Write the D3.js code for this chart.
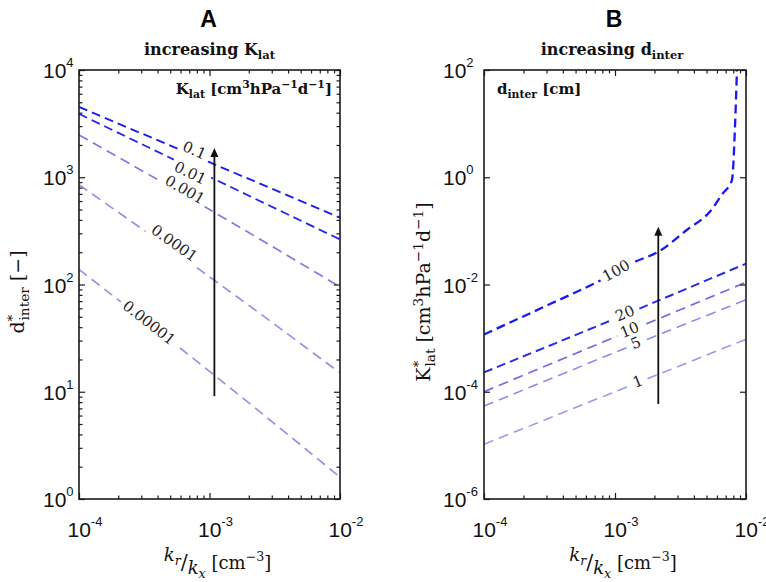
<!DOCTYPE html>
<html>
<head>
<meta charset="utf-8">
<script src="https://cdn.jsdelivr.net/npm/d3@7"></script>
<style>
  body { margin: 0; background: #fff; }
  svg { display: block; }
</style>
</head>
<body>
<div id="chart"></div>
<script>
// k_r / k_x [cm^-3] sample points of the straight contours
const kRatio = [1e-4, 1e-3, 1e-2];

// Panel A: d*_inter [-] for each K_lat level
const kLatLevels = ['0.1', '0.01', '0.001', '0.0001', '0.00001'];
const dInterA = [
  [4530, 1380, 420],
  [3900, 1010, 263],
  [2480, 500, 95],
  [850, 118, 15],
  [138, 15.5, 1.6],
];

// Panel B: K*_lat for each d_inter level
const dInterLevels = ['100', '20', '10', '5', '1'];
const kRatio100 = [1e-4, 3.16e-4, 7.94e-4, 1.38e-3, 2.14e-3, 3.55e-3, 5.31e-3, 6.61e-3, 7.82e-3, 8.24e-3, 8.53e-3];
const kLat100 = [1.17e-3, 4.27e-3, 1.23e-2, 2.57e-2, 4.07e-2, 0.105, 0.229, 0.49, 0.891, 8.71, 100];
const kLatB = [
  [2.3e-4, 2.3e-3, 2.45e-2],
  [1.0e-4, 1.05e-3, 1.1e-2],
  [5.4e-5, 5.4e-4, 5.2e-3],
  [1.05e-5, 1.0e-4, 9.5e-4],
];

const xTicks = [1e-4, 1e-3, 1e-2];
const xTickExp = ['-4', '-3', '-2'];
const yTicksA = [1, 10, 100, 1000, 10000];
const yTickExpA = ['0', '1', '2', '3', '4'];
const yTicksB = [1e-6, 1e-4, 1e-2, 1, 100];
const yTickExpB = ['-6', '-4', '-2', '0', '2'];

// where the contour labels sit (k_r/k_x value)
const labelXA = [7.4e-4, 7.4e-4, 6.2e-4, 5.0e-4, 3.4e-4];
const labelXB = [1.03e-3, 1.2e-3, 1.3e-3, 1.45e-3, 1.5e-3];

const W = 766;
const H = 582;
const serif = "'DejaVu Serif', serif";
const sans = "'Liberation Sans', Arial, sans-serif";

const svg = d3.select('#chart').append('svg').attr('width', W).attr('height', H);
svg.append('rect').attr('width', W).attr('height', H).attr('fill', '#fff');
const defs = svg.append('defs');

// write text with sub/superscript parts: {t, off (px from baseline), fs, st}
const rich = (sel, parts, size) => {
  let cur = 0;
  parts.forEach((p) => {
    const off = p.off || 0;
    const ts = sel.append('tspan').text(p.t).attr('dy', off - cur);
    ts.style('font-size', `${(p.fs || 1) * size}px`);
    if (p.dx) ts.attr('dx', p.dx);
    if (p.st) ts.style('font-style', p.st);
    cur = off;
  });
};

const logInterp = (xs, ys) => {
  const s = d3.scaleLinear().domain(xs.map(Math.log10)).range(ys.map(Math.log10));
  return (v) => 10 ** s(Math.log10(v));
};

const makePanel = (cfg) => {
  const x = d3.scaleLog().domain([1e-4, 1e-2]).range([cfg.left, cfg.right]);
  const y = d3.scaleLog().domain(cfg.yDomain).range([499, 70]);
  const g = svg.append('g');

  const clipId = `clip${cfg.id}`;
  defs.append('clipPath').attr('id', clipId)
    .append('rect')
    .attr('x', cfg.left).attr('y', 70)
    .attr('width', cfg.right - cfg.left).attr('height', 429);

  const line = d3.line().x((d) => x(d[0])).y((d) => y(d[1])).curve(d3.curveMonotoneX);

  // labels first so we can measure them for the line gaps
  const labelG = svg.append('g');
  cfg.series.forEach((s, i) => {
    const f = logInterp(s.xs, s.ys);
    const lx = cfg.labelX[i];
    const a = x(lx * 1.05) - x(lx / 1.05);
    const b = y(f(lx * 1.05)) - y(f(lx / 1.05));
    const ang = (Math.atan2(b, a) * 180) / Math.PI;
    const rad = (ang * Math.PI) / 180;
    // nudge the label a little off the line (perpendicular)
    const lift = cfg.labelLift[i];
    const px = x(lx) + lift * Math.sin(rad);
    const py = y(f(lx)) - lift * Math.cos(rad);
    const t = labelG.append('text')
      .attr('transform', `translate(${px},${py}) rotate(${ang})`)
      .attr('text-anchor', 'middle')
      .attr('dominant-baseline', 'central')
      .style('font-family', serif)
      .style('font-size', '15px')
      .attr('fill', '#26221e')
      .text(s.name);
    const len = t.node().getComputedTextLength();
    const m = defs.append('mask').attr('id', `m${cfg.id}${i}`)
      .attr('maskUnits', 'userSpaceOnUse')
      .attr('x', 0).attr('y', 0).attr('width', W).attr('height', H);
    m.append('rect').attr('width', W).attr('height', H).attr('fill', '#fff');
    m.append('rect')
      .attr('transform', `translate(${px},${py}) rotate(${ang})`)
      .attr('x', -len / 2 - 4).attr('y', -11)
      .attr('width', len + 8).attr('height', 22)
      .attr('fill', '#000');
  });

  const lines = g.append('g').attr('clip-path', `url(#${clipId})`);
  cfg.series.forEach((s, i) => {
    lines.append('g').attr('mask', `url(#m${cfg.id}${i})`)
      .append('path')
      .attr('d', line(s.xs.map((v, j) => [v, s.ys[j]])))
      .attr('fill', 'none')
      .attr('stroke', cfg.styles[i].c)
      .attr('stroke-width', cfg.styles[i].w)
      .attr('stroke-dasharray', cfg.styles[i].d);
  });
  labelG.raise();

  // box + inward ticks
  const axG = svg.append('g').attr('stroke', '#1a1a1a');
  const addAxis = (axis, tr) => {
    const a = axG.append('g').attr('transform', tr).call(axis);
    a.select('.domain').remove();
    a.selectAll('line').attr('stroke', '#1a1a1a').attr('stroke-width', 1.2);
  };
  const xMinor = [];
  [1e-4, 1e-3].forEach((d) => d3.range(2, 10).forEach((k) => xMinor.push(k * d)));
  addAxis(d3.axisBottom(x).tickValues(xTicks).tickSize(-6).tickFormat(''), 'translate(0,499)');
  addAxis(d3.axisBottom(x).tickValues(xMinor).tickSize(-3.5).tickFormat(''), 'translate(0,499)');
  addAxis(d3.axisTop(x).tickValues(xTicks).tickSize(-6).tickFormat(''), 'translate(0,70)');
  addAxis(d3.axisTop(x).tickValues(xMinor).tickSize(-3.5).tickFormat(''), 'translate(0,70)');
  addAxis(d3.axisLeft(y).tickValues(cfg.yTicks).tickSize(-6).tickFormat(''), `translate(${cfg.left},0)`);
  addAxis(d3.axisRight(y).tickValues(cfg.yTicks).tickSize(-6).tickFormat(''), `translate(${cfg.right},0)`);
  if (cfg.yMinor) {
    addAxis(d3.axisLeft(y).tickValues(cfg.yMinor).tickSize(-3.5).tickFormat(''), `translate(${cfg.left},0)`);
    addAxis(d3.axisRight(y).tickValues(cfg.yMinor).tickSize(-3.5).tickFormat(''), `translate(${cfg.right},0)`);
  }
  svg.append('rect')
    .attr('x', cfg.left).attr('y', 70)
    .attr('width', cfg.right - cfg.left).attr('height', 429)
    .attr('fill', 'none').attr('stroke', '#1a1a1a').attr('stroke-width', 1.6);

  // tick labels
  xTicks.forEach((v, i) => {
    const t = svg.append('text')
      .attr('x', x(v) - 11.5).attr('y', 537)
      .style('font-family', sans).style('font-size', '21px').attr('fill', '#111');
    rich(t, [{ t: '10' }, { t: xTickExp[i], off: -11, fs: 0.62 }], 21);
  });
  cfg.yTicks.forEach((v, i) => {
    const t = svg.append('text')
      .attr('x', cfg.left - cfg.tickGap).attr('y', y(v) + 8)
      .style('font-family', sans).style('font-size', '21px').attr('fill', '#111');
    rich(t, [{ t: '10' }, { t: cfg.yTickExp[i], off: -11, fs: 0.62 }], 21);
  });

  // arrow
  const ax = x(cfg.arrow[0]);
  const ay0 = y(cfg.arrow[1]);
  const ay1 = y(cfg.arrow[2]);
  svg.append('line')
    .attr('x1', ax).attr('x2', ax).attr('y1', ay0).attr('y2', ay1 + 6)
    .attr('stroke', '#111').attr('stroke-width', 1.8);
  svg.append('path')
    .attr('d', `M${ax},${ay1} L${ax - 4},${ay1 + 9} L${ax + 4},${ay1 + 9} Z`)
    .attr('fill', '#111');

  // titles
  const cx = (cfg.left + cfg.right) / 2;
  svg.append('text').attr('x', cx - 1).attr('y', 27)
    .attr('text-anchor', 'middle')
    .style('font-family', sans).style('font-weight', 'bold').style('font-size', '23px')
    .text(cfg.id);
  const st = svg.append('text').attr('x', cx + cfg.titleShift).attr('y', 55)
    .attr('text-anchor', 'middle')
    .style('font-family', serif).style('font-weight', 'bold').style('font-size', '16px')
    .attr('fill', '#111');
  rich(st, cfg.title, 16);

  const inner = svg.append('text').attr('x', cfg.innerX).attr('y', 94)
    .attr('text-anchor', cfg.innerAnchor)
    .style('font-family', serif).style('font-weight', 'bold').style('font-size', '15px')
    .attr('fill', '#111');
  rich(inner, cfg.inner, 15);

  // axis labels
  const xl = svg.append('text').attr('x', cx + 8).attr('y', 569)
    .attr('text-anchor', 'middle')
    .style('font-family', serif).style('font-size', '18px').attr('fill', '#111');
  rich(xl, [
    { t: 'k', off: -8, st: 'italic' },
    { t: 'r', off: -4, fs: 0.7, st: 'italic' },
    { t: '/', off: 0, fs: 1.15 },
    { t: 'k', off: 5, st: 'italic' },
    { t: 'x', off: 9, fs: 0.7, st: 'italic' },
    { t: ' [cm', off: 0 },
    { t: '−3', off: -8, fs: 0.7 },
    { t: ']', off: 0 },
  ], 18);

  const yl = svg.append('text')
    .attr('transform', `translate(${cfg.yLabelX},292) rotate(-90)`)
    .attr('text-anchor', 'middle')
    .style('font-family', serif).style('font-size', '19px').attr('fill', '#111');
  rich(yl, cfg.yLabel, 19);
};

const yMinorA = [];
[1, 10, 100, 1000].forEach((d) => d3.range(2, 10).forEach((k) => yMinorA.push(k * d)));

makePanel({
  id: 'A',
  left: 79,
  right: 340,
  yDomain: [1, 1e4],
  yTicks: yTicksA,
  yTickExp: yTickExpA,
  yMinor: yMinorA,
  tickGap: 36,
  series: kLatLevels.map((name, i) => ({ name, xs: kRatio, ys: dInterA[i] })),
  labelX: labelXA,
  labelLift: [5, -5, 5, 7, 1],
  styles: [
    { c: '#1c1cf2', w: 1.9, d: '9,5' },
    { c: '#2424ee', w: 1.8, d: '9,5' },
    { c: '#7c7ce6', w: 1.7, d: '10,6' },
    { c: '#9292e8', w: 1.7, d: '10,6' },
    { c: '#9292e8', w: 1.7, d: '10,6' },
  ],
  arrow: [1.09e-3, 9.1, 1870],
  titleShift: 0,
  title: [{ t: 'increasing K' }, { t: 'lat', off: 4, fs: 0.72 }],
  innerX: 332,
  innerAnchor: 'end',
  inner: [
    { t: 'K' }, { t: 'lat', off: 4, fs: 0.72 }, { t: ' [cm', off: 0 },
    { t: '3', off: -6, fs: 0.72 }, { t: 'hPa', off: 0 }, { t: '−1', off: -6, fs: 0.72 },
    { t: 'd', off: 0 }, { t: '−1', off: -6, fs: 0.72 }, { t: ']', off: 0 },
  ],
  yLabelX: 24,
  yLabel: [
    { t: 'd' }, { t: '*', off: -7, fs: 0.72 }, { t: 'inter', off: 5, fs: 0.72, dx: -6 },
    { t: ' [−]', off: 0 },
  ],
});

makePanel({
  id: 'B',
  left: 484,
  right: 746,
  yDomain: [1e-6, 1e2],
  yTicks: yTicksB,
  yTickExp: yTickExpB,
  yMinor: null,
  tickGap: 41,
  series: [{ name: dInterLevels[0], xs: kRatio100, ys: kLat100 }]
    .concat(kLatB.map((ys, i) => ({ name: dInterLevels[i + 1], xs: kRatio, ys }))),
  labelX: labelXB,
  labelLift: [1, 1, 1, 1, 1],
  styles: [
    { c: '#1818f4', w: 2.3, d: '9,5' },
    { c: '#2a2aee', w: 2.0, d: '9,5' },
    { c: '#7070e6', w: 1.7, d: '10,6' },
    { c: '#8c8ce8', w: 1.6, d: '10,6' },
    { c: '#9a9aea', w: 1.6, d: '10,6' },
  ],
  arrow: [2.14e-3, 5.9e-5, 0.12],
  titleShift: -3,
  title: [{ t: 'increasing d' }, { t: 'inter', off: 4, fs: 0.72 }],
  innerX: 497,
  innerAnchor: 'start',
  inner: [{ t: 'd' }, { t: 'inter', off: 4, fs: 0.72 }, { t: ' [cm]', off: 0 }],
  yLabelX: 430,
  yLabel: [
    { t: 'K' }, { t: '*', off: -7, fs: 0.72 }, { t: 'lat', off: 5, fs: 0.72, dx: -6 },
    { t: ' [cm', off: 0 }, { t: '3', off: -7, fs: 0.72 }, { t: 'hPa', off: 0 },
    { t: '−1', off: -7, fs: 0.72 }, { t: 'd', off: 0 }, { t: '−1', off: -7, fs: 0.72 },
    { t: ']', off: 0 },
  ],
});
</script>
</body>
</html>
